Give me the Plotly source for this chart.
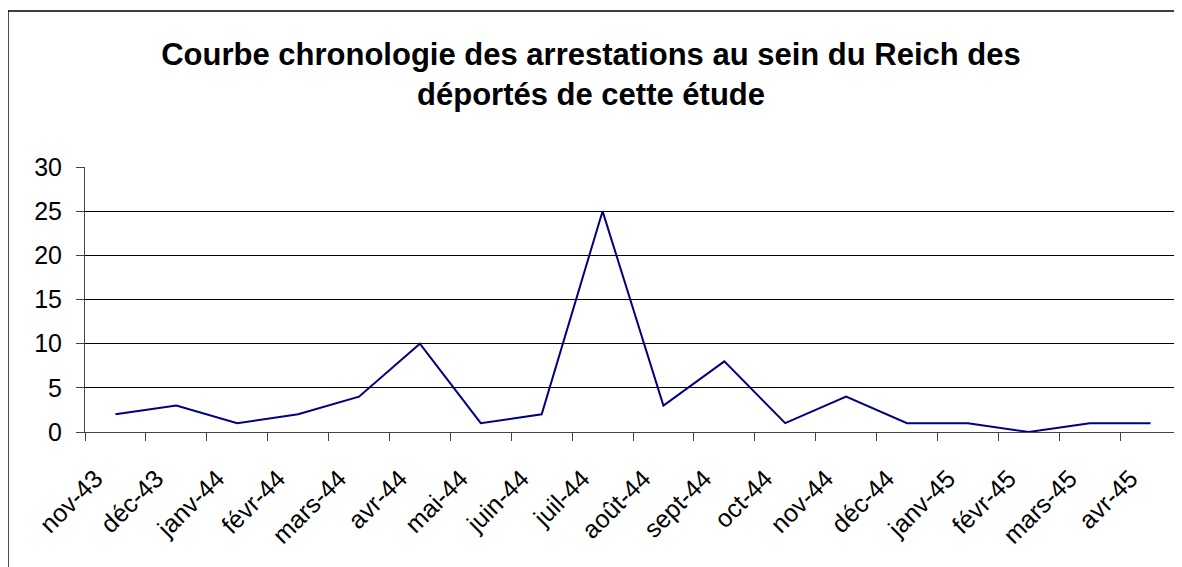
import plotly.graph_objects as go

# Arrestations per month
months = ['nov-43', 'déc-43', 'janv-44', 'févr-44', 'mars-44', 'avr-44', 'mai-44',
          'juin-44', 'juil-44', 'août-44', 'sept-44', 'oct-44', 'nov-44', 'déc-44',
          'janv-45', 'févr-45', 'mars-45', 'avr-45']
arrests = [2, 3, 1, 2, 4, 10, 1, 2, 25, 3, 8, 1, 4, 1, 1, 0, 1, 1]

y_ticks = [0, 5, 10, 15, 20, 25, 30]

title = ('<b>Courbe chronologie des arrestations au sein du Reich des<br>'
         'déportés de cette étude</b>')

fig = go.Figure()
fig.add_trace(go.Scatter(
    x=months, y=arrests, mode='lines',
    line=dict(color='#000080', width=2),
    hoverinfo='x+y'
))

# page body has an 8px margin, so the figure is drawn 8px right / down
fig.update_layout(
    width=1174, height=559,
    margin=dict(l=77, r=1, t=159, b=135),
    paper_bgcolor='white', plot_bgcolor='white',
    showlegend=False,
    font=dict(family='Liberation Sans, Arial', color='black'),
    title=dict(text=title, x=0.4966, xanchor='center', y=0.898, yanchor='top',
               font=dict(size=31, color='black')),
    xaxis=dict(
        type='category', tickangle=-45, tickson='boundaries',
        ticks='outside', ticklen=8, tickcolor='#444',
        showline=True, linecolor='#444', linewidth=1,
        showgrid=False, tickfont=dict(size=25), automargin=False,
        ticklabelstandoff=21, ticklabelshift=-20,
        range=[-0.5, len(months) - 0.5]
    ),
    yaxis=dict(
        range=[0, 30], tickvals=y_ticks,
        ticks='outside', ticklen=8, tickcolor='#444',
        showline=True, linecolor='#444', linewidth=1,
        showgrid=True, gridcolor='black', gridwidth=1,
        tickfont=dict(size=25), zeroline=False, automargin=False,
        ticklabelstandoff=9
    ),
    shapes=[dict(type='rect', xref='paper', yref='paper',
                 x0=-0.0703, x1=1.01, y0=-0.7, y1=1.589,
                 line=dict(color='black', width=1.5))]
)

fig.write_html('out.html')
